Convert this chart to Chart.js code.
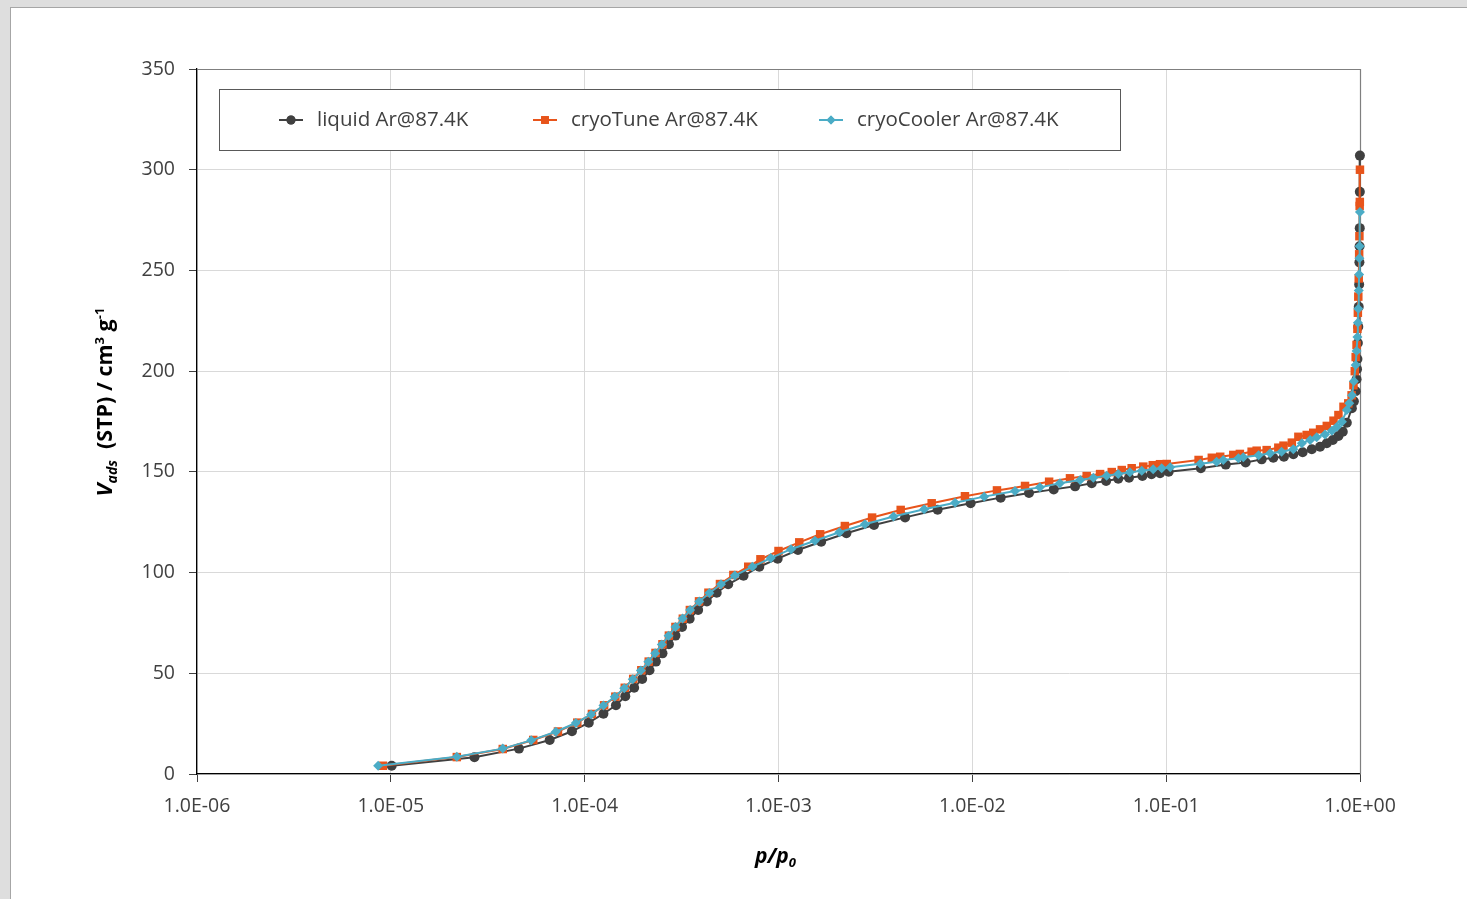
<!DOCTYPE html>
<html>
<head>
<meta charset="utf-8">
<title>Ar isotherms at 87.4 K</title>
<script src="https://cdn.jsdelivr.net/npm/chart.js@4.4.1/dist/chart.umd.min.js"></script>
<style>
    html, body { margin: 0; padding: 0; background: #dedede; overflow: hidden; }
    #panel { position: absolute; left: 10px; top: 7px; width: 1470px; height: 900px; background: #fff; border: 1px solid #a6a6a6; }
    #chart { position: absolute; left: 0; top: 0; }
</style>
</head>
<body>
<div id="panel"></div>
<canvas id="chart" width="1467" height="899"></canvas>
<script>
// Series data (p/p0 and V_ads)
const seriesNames = ['liquid Ar@87.4K', 'cryoTune Ar@87.4K', 'cryoCooler Ar@87.4K'];

const liquidP = [1.01e-5, 2.7e-5, 4.58e-5, 6.6e-5, 8.6e-5, 1.05e-4, 1.25e-4, 1.45e-4, 1.62e-4, 1.80e-4,
    1.98e-4, 2.16e-4, 2.33e-4, 2.52e-4, 2.72e-4, 2.94e-4, 3.18e-4, 3.48e-4, 3.85e-4, 4.27e-4,
    4.80e-4, 5.5e-4, 6.6e-4, 7.96e-4, 9.9e-4, 1.26e-3, 1.66e-3, 2.24e-3, 3.11e-3, 4.50e-3,
    6.62e-3, 9.8e-3, 1.40e-2, 1.96e-2, 2.63e-2, 3.39e-2, 4.13e-2, 4.90e-2, 5.66e-2, 6.43e-2,
    7.54e-2, 8.4e-2, 9.3e-2, 0.103, 0.151, 0.203, 0.257, 0.311, 0.357, 0.405,
    0.453, 0.506, 0.564, 0.622, 0.674, 0.724, 0.774, 0.815, 0.855, 0.908,
    0.93, 0.95, 0.96, 0.965, 0.97, 0.975, 0.98, 0.985, 0.99, 0.993, 0.995, 0.997, 0.998, 0.999];
const liquidV = [4.1, 8.3, 12.6, 16.9, 21.2, 25.5, 29.9, 34.1, 38.6, 42.8,
    47.2, 51.5, 55.8, 59.9, 64.4, 68.7, 73.0, 77.1, 81.4, 85.7,
    90.0, 94.2, 98.4, 102.9, 106.9, 111.2, 115.3, 119.5, 123.6, 127.4,
    131.2, 134.4, 137.2, 139.5, 141.3, 142.8, 144.3, 145.5, 146.6, 147.1,
    147.9, 148.8, 149.3, 150.1, 151.8, 153.6, 154.7, 156.2, 157.0, 157.5,
    158.7, 159.7, 161.2, 162.5, 164.2, 165.8, 167.8, 169.9, 174.4, 181.6,
    185, 190, 196, 201, 206, 214, 222, 232, 243, 254, 262, 271, 289, 307];

const tuneP = [9.1e-6, 2.19e-5, 3.78e-5, 5.43e-5, 7.28e-5, 9.16e-5, 1.09e-4, 1.26e-4, 1.44e-4, 1.61e-4,
    1.78e-4, 1.96e-4, 2.14e-4, 2.32e-4, 2.52e-4, 2.72e-4, 2.94e-4, 3.21e-4, 3.49e-4, 3.89e-4,
    4.35e-4, 4.99e-4, 5.85e-4, 6.98e-4, 8.07e-4, 1.00e-3, 1.28e-3, 1.64e-3, 2.20e-3, 3.04e-3,
    4.27e-3, 6.17e-3, 9.16e-3, 1.34e-2, 1.87e-2, 2.49e-2, 3.19e-2, 3.89e-2, 4.56e-2, 5.24e-2,
    5.90e-2, 6.64e-2, 7.62e-2, 8.53e-2, 9.29e-2, 0.1007, 0.147, 0.172, 0.19, 0.222,
    0.24, 0.276, 0.293, 0.330, 0.379, 0.403, 0.445, 0.481, 0.531, 0.574,
    0.622, 0.674, 0.73, 0.774, 0.822, 0.87, 0.905, 0.925, 0.94, 0.95,
    0.96, 0.97, 0.975, 0.98, 0.985, 0.99, 0.993, 0.996, 0.998, 0.9995];
const tuneV = [4.1, 8.4, 12.4, 16.9, 21.1, 25.5, 29.8, 34.1, 38.4, 42.8,
    47.2, 51.5, 55.8, 60.1, 64.4, 68.7, 73.0, 77.1, 81.4, 85.7,
    90.0, 94.3, 98.8, 102.9, 106.6, 110.7, 115.0, 119.0, 123.1, 127.3,
    131.1, 134.4, 137.9, 140.8, 143.0, 145.1, 146.8, 147.9, 148.9, 149.9,
    150.9, 151.8, 152.6, 153.3, 153.8, 153.9, 155.9, 157.0, 157.5, 158.4,
    158.9, 160.0, 160.5, 160.8, 162.0, 163.0, 164.5, 167.4, 168.3, 169.4,
    171.1, 172.8, 175.4, 178.2, 182.3, 184, 188, 193, 200, 207,
    213, 221, 229, 237, 246, 258, 267, 282, 284, 300];

const coolerP = [8.6e-6, 2.19e-5, 3.78e-5, 5.3e-5, 7.1e-5, 9.0e-5, 1.08e-4, 1.25e-4, 1.43e-4, 1.60e-4,
    1.77e-4, 1.95e-4, 2.13e-4, 2.31e-4, 2.50e-4, 2.71e-4, 2.94e-4, 3.20e-4, 3.50e-4, 3.90e-4,
    4.40e-4, 5.05e-4, 5.95e-4, 7.33e-4, 9.12e-4, 1.16e-3, 1.54e-3, 2.06e-3, 2.79e-3, 3.92e-3,
    5.64e-3, 8.15e-3, 1.15e-2, 1.66e-2, 2.23e-2, 2.83e-2, 3.60e-2, 4.21e-2, 4.93e-2, 5.66e-2,
    6.50e-2, 7.48e-2, 8.57e-2, 9.48e-2, 0.105, 0.15, 0.182, 0.197, 0.236, 0.25,
    0.30, 0.344, 0.394, 0.453, 0.501, 0.553, 0.598, 0.660, 0.716, 0.761,
    0.807, 0.855, 0.88, 0.91, 0.93, 0.95, 0.96, 0.97, 0.975, 0.98,
    0.985, 0.99, 0.993, 0.996, 0.9995];
const coolerV = [4.1, 8.6, 12.6, 16.7, 21.0, 25.3, 29.6, 34.0, 38.3, 42.6,
    47.0, 51.4, 55.7, 60.0, 64.3, 68.6, 73.0, 77.2, 81.4, 85.7,
    89.9, 94.2, 98.5, 102.9, 107.2, 111.6, 115.8, 120.0, 124.0, 127.8,
    131.4, 134.7, 137.7, 140.5, 142.3, 144.3, 146.0, 147.1, 148.1, 148.9,
    149.8, 150.6, 151.3, 151.8, 152.3, 154.0, 155.0, 155.9, 156.7, 157.2,
    158.2, 159.2, 160.0, 161.2, 164.2, 165.8, 167.2, 168.6, 170.4, 172.4,
    174.9, 180.7, 184, 188, 195, 203, 210, 217, 224, 231,
    240, 248, 256, 262, 279];

const xTickValues = [1e-6, 1e-5, 1e-4, 1e-3, 1e-2, 1e-1, 1e0];
const xTickLabels = ['1.0E-06', '1.0E-05', '1.0E-04', '1.0E-03', '1.0E-02', '1.0E-01', '1.0E+00'];

const seriesColors = ['#404040', '#e8541b', '#4bacc6'];
const seriesStyles = ['circle', 'rect', 'rectRot'];
const seriesRadius = [5, 6, 5];

const FONT = "'Open Sans', 'Noto Sans', sans-serif";
const TEXT = '#404040';

function toPoints(ps, vs) {
    const n = Math.min(ps.length, vs.length);
    const out = [];
    for (let i = 0; i < n; i++) out.push({ x: ps[i], y: vs[i] });
    return out;
}

const pointSets = [toPoints(liquidP, liquidV), toPoints(tuneP, tuneV), toPoints(coolerP, coolerV)];

// Frame, legend box and axis titles drawn straight on the canvas
const decorPlugin = {
    id: 'decor',
    beforeDatasetsDraw(chart) {
        const { ctx, chartArea: a } = chart;
        ctx.save();
        ctx.strokeStyle = '#7f7f7f';
        ctx.lineWidth = 1.2;
        ctx.beginPath();
        ctx.moveTo(a.left, a.top + 0.5);
        ctx.lineTo(a.right + 0.5, a.top + 0.5);
        ctx.lineTo(a.right + 0.5, a.bottom);
        ctx.stroke();
        ctx.restore();
    },
    afterDraw(chart) {
        const { ctx, chartArea: a } = chart;
        ctx.save();

        // legend box
        const bx = a.left + 22, by = a.top + 20, bw = 901, bh = 61;
        ctx.fillStyle = '#fff';
        ctx.fillRect(bx, by, bw, bh);
        ctx.strokeStyle = '#595959';
        ctx.lineWidth = 1;
        ctx.strokeRect(bx + 0.5, by + 0.5, bw, bh);

        const itemX = [bx + 72, bx + 326, bx + 612];
        const cy = by + 31;
        ctx.font = '20.5px ' + FONT;
        ctx.textBaseline = 'middle';
        ctx.textAlign = 'left';
        for (let i = 0; i < seriesNames.length; i++) {
            const mx = itemX[i];
            ctx.strokeStyle = seriesColors[i];
            ctx.lineWidth = 2;
            ctx.beginPath();
            ctx.moveTo(mx - 12, cy);
            ctx.lineTo(mx + 12, cy);
            ctx.stroke();
            ctx.fillStyle = seriesColors[i];
            Chart.helpers.drawPoint(ctx, { pointStyle: seriesStyles[i], radius: seriesRadius[i] - 0.5, rotation: 0, borderWidth: 0 }, mx, cy);
            ctx.fill();
            ctx.fillStyle = TEXT;
            ctx.fillText(seriesNames[i], mx + 26, cy);
        }

        // y axis title, rotated
        ctx.fillStyle = '#000';
        const parts = [
            { t: 'V', f: 'italic bold 22px ', dy: 0 },
            { t: 'ads', f: 'italic bold 14px ', dy: 5 },
            { t: '  (STP) / cm', f: 'bold 21.5px ', dy: 0 },
            { t: '3', f: 'bold 13px ', dy: -8 },
            { t: ' g', f: 'bold 21.5px ', dy: 0 },
            { t: '-1', f: 'bold 13px ', dy: -8 }
        ];
        let total = 0;
        parts.forEach(p => { ctx.font = p.f + FONT; p.w = ctx.measureText(p.t).width; total += p.w; });
        ctx.translate(104, 402);
        ctx.rotate(-Math.PI / 2);
        ctx.textBaseline = 'alphabetic';
        let x = -total / 2;
        parts.forEach(p => {
            ctx.font = p.f + FONT;
            ctx.fillText(p.t, x, 8 + p.dy);
            x += p.w;
        });
        ctx.setTransform(1, 0, 0, 1, 0, 0);
        ctx.scale(chart.currentDevicePixelRatio, chart.currentDevicePixelRatio);

        // x axis title
        const xp = [
            { t: 'p/p', f: 'italic bold 21px ', dy: 0 },
            { t: '0', f: 'italic bold 13px ', dy: 4 }
        ];
        total = 0;
        xp.forEach(p => { ctx.font = p.f + FONT; p.w = ctx.measureText(p.t).width; total += p.w; });
        x = (a.left + a.right) / 2 - total / 2 - 3;
        xp.forEach(p => {
            ctx.font = p.f + FONT;
            ctx.fillText(p.t, x, 863 + p.dy);
            x += p.w;
        });
        ctx.restore();
    }
};

const datasets = seriesNames.map((name, i) => ({
    label: name,
    data: pointSets[i],
    borderColor: seriesColors[i],
    backgroundColor: seriesColors[i],
    borderWidth: 2,
    pointStyle: seriesStyles[i],
    pointRadius: seriesRadius[i],
    pointBorderWidth: 0,
    pointBackgroundColor: seriesColors[i],
    tension: 0,
    clip: false,
    order: seriesNames.length - i
}));

new Chart(document.getElementById('chart'), {
    type: 'line',
    data: { datasets: datasets },
    plugins: [decorPlugin],
    options: {
        responsive: false,
        animation: false,
        layout: { padding: { left: 0, top: 69, right: 107, bottom: 0 } },
        plugins: {
            legend: { display: false },
            tooltip: { enabled: false }
        },
        scales: {
            x: {
                type: 'logarithmic',
                min: 1e-6,
                max: 1,
                afterFit: function(scale) { scale.height = 125; },
                afterBuildTicks: function(scale) {
                    scale.ticks = xTickValues.map(v => ({ value: v }));
                },
                grid: { color: '#d9d9d9', lineWidth: 1, tickColor: '#404040', tickLength: 8 },
                border: { color: '#000', width: 1.3 },
                ticks: {
                    autoSkip: false,
                    maxRotation: 0,
                    padding: 13,
                    color: TEXT,
                    font: { family: FONT, size: 19.5 },
                    callback: function(value, index) { return xTickLabels[index]; }
                }
            },
            y: {
                min: 0,
                max: 350,
                afterFit: function(scale) { scale.width = 197; },
                grid: { color: '#d9d9d9', lineWidth: 1, tickColor: '#404040', tickLength: 8 },
                border: { color: '#000', width: 1.3 },
                ticks: {
                    stepSize: 50,
                    padding: 14,
                    color: TEXT,
                    font: { family: FONT, size: 19.5 }
                }
            }
        }
    }
});
</script>
</body>
</html>
